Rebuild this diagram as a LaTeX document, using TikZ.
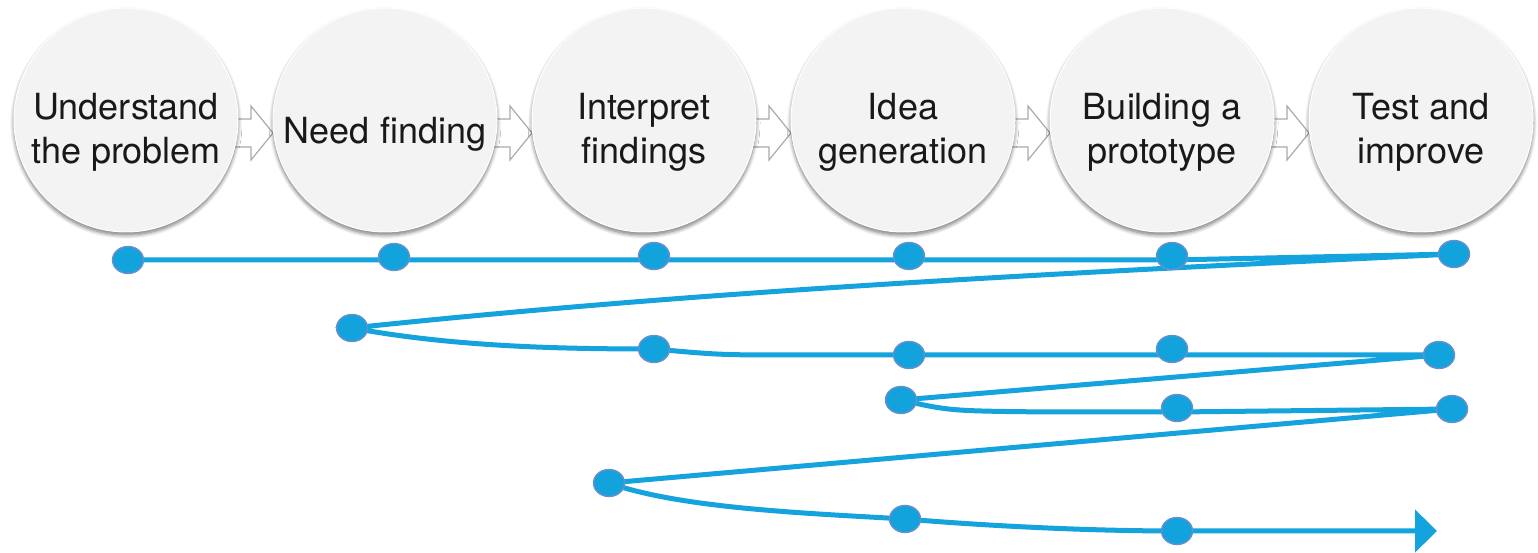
\documentclass[tikz,border=0pt]{standalone}
\usepackage{fontspec}
\setmainfont{TeX Gyre Heros}
\usetikzlibrary{shapes.geometric,arrows.meta,shadows.blur}
\definecolor{lineblue}{RGB}{20,163,220}
\definecolor{dotblue}{RGB}{18,162,220}
\definecolor{dotrim}{RGB}{106,143,204}
\definecolor{circfill}{RGB}{243,243,243}
\definecolor{arrowgray}{RGB}{170,170,170}
\pgfdeclarelayer{background}
\pgfsetlayers{background,main}
\tikzset{
  stage/.style={circle, minimum size=224pt, inner sep=0pt, fill=circfill, draw=white, line width=1pt,
    blur shadow={shadow xshift=0pt, shadow yshift=-3pt, shadow blur radius=4pt, shadow blur steps=8, shadow opacity=55}},
  stagetext/.style={font=\fontsize{36}{44}\selectfont, align=center, text=black!90, inner sep=0pt},
  blockarrow/.style={fill=white, draw=arrowgray, line width=1.2pt, line join=miter},
  dot/.style={ellipse, minimum width=31pt, minimum height=27pt, inner sep=0pt, fill=dotblue, draw=dotrim, line width=1.4pt},
  route/.style={draw=lineblue, line width=5pt},
}
\begin{document}
\begin{tikzpicture}[x=1pt,y=1pt]
\useasboundingbox (0,0) rectangle (1538,553);
% stage circles
\node[stage] (c1) at (126,433) {};
\node[stage] (c2) at (385,433) {};
\node[stage] (c3) at (644,433) {};
\node[stage] (c4) at (903,433) {};
\node[stage] (c5) at (1162,433) {};
\node[stage] (c6) at (1421,433) {};
\node[stagetext] (t1) at ([yshift=-12pt]c1.center) {Understand\\the problem};
\node[stagetext] (t2) at ([yshift=-14pt]c2.center) {Need finding};
\node[stagetext] (t3) at ([yshift=-12pt]c3.center) {Interpret\\findings};
\node[stagetext] (t4) at ([yshift=-12pt]c4.center) {Idea\\generation};
\node[stagetext] (t5) at ([yshift=-12pt]c5.center) {Building a\\prototype};
\node[stagetext] (t6) at ([yshift=-12pt]c6.center) {Test and\\improve};
% block arrows between circles (behind)
\begin{pgfonlayer}{background}
\foreach \a/\b in {c1/c2,c2/c3,c3/c4,c4/c5,c5/c6}{
  \draw[blockarrow] ([shift={(95pt,-27pt)}]\a.center) -- ([shift={(125pt,-27pt)}]\a.center)
    -- ([shift={(125pt,-40pt)}]\a.center) -- ([shift={(-112pt,-13pt)}]\b.center)
    -- ([shift={(125pt,14pt)}]\a.center) -- ([shift={(125pt,1pt)}]\a.center)
    -- ([shift={(95pt,1pt)}]\a.center) -- cycle;
}
\end{pgfonlayer}
% dots
\node[dot] (d11) at (128,293) {};
\node[dot] (d12) at (394,296) {};
\node[dot] (d13) at (654,297) {};
\node[dot] (d14) at (909,297) {};
\node[dot] (d15) at (1172,297) {};
\node[dot] (d16) at (1454,299) {};
\node[dot] (d21) at (352,225) {};
\node[dot] (d22) at (654,204) {};
\node[dot] (d23) at (909,198) {};
\node[dot] (d24) at (1172,204) {};
\node[dot] (d25) at (1439,198) {};
\node[dot] (d31) at (901,153) {};
\node[dot] (d32) at (1177,145) {};
\node[dot] (d33) at (1452,144) {};
\node[dot] (d41) at (609,70) {};
\node[dot] (d42) at (905,34) {};
\node[dot] (d43) at (1177,22) {};
\coordinate (tip) at (1437,22);
% route
\begin{pgfonlayer}{background}
\path[route, -{Triangle[length=22pt,width=42pt]}]
  (d11.center) -- ([yshift=-4pt]d15.center) -- (d16.center)
  .. controls (1086,281) and (719,264) .. (d21.center)
  .. controls (450,207) and (550,204) .. (d22.center)
  .. controls (720,198) .. (800,198) -- (d25.center)
  -- (d31.center)
  .. controls (950,142) .. (1050,141) -- ([yshift=-4pt]d32.center) -- (d33.center)
  -- (d41.center)
  .. controls (680,45) and (800,40) .. (d42.center)
  .. controls (1000,26) and (1100,22) .. (d43.center) -- (tip);
\end{pgfonlayer}
\end{tikzpicture}
\end{document}
